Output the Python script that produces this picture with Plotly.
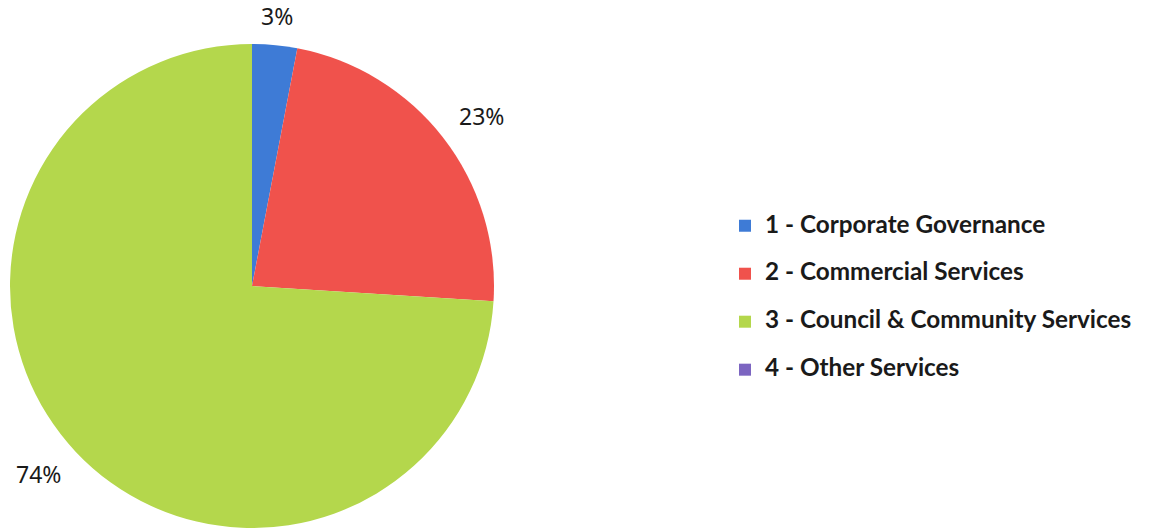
import math
import plotly.graph_objects as go

# Data
categories = [
    "1 - Corporate Governance",
    "2 - Commercial Services",
    "3 - Council & Community Services",
    "4 - Other Services",
]
shares = [3, 23, 74, 0]
colors = ["#3E7BD6", "#F0524C", "#B4D74C", "#7C65C1"]

W, H = 1149, 532

# Pie placement in pixels
CX, CY, R = 252, 286, 242
LABEL_GAP = 20
LABEL_SIZE = 23

fig = go.Figure()

# Legend entries: bold label line plus a blank spacer line for row spacing
legend_text_px = 24.3
legend_labels = [
    f"<span style='font-size:{legend_text_px}px'>{c}</span><br>&nbsp;" for c in categories
]

fig.add_trace(
    go.Pie(
        labels=legend_labels,
        values=shares,
        sort=False,
        direction="clockwise",
        rotation=0,
        marker=dict(colors=colors, line=dict(width=0)),
        textinfo="none",
        hoverinfo="skip",
        domain=dict(
            x=[(CX - R) / W, (CX + R) / W],
            y=[1 - (CY + R) / H, 1 - (CY - R) / H],
        ),
    )
)

# Percentage labels placed just outside each slice's mid-angle
total = sum(shares)
cum = 0
for v in shares:
    if v <= 0:
        continue
    mid = (cum + v / 2) / total * 2 * math.pi
    cum += v
    text = f"{round(v / total * 100)}%"
    sx, sy = math.sin(mid), -math.cos(mid)
    half_w = LABEL_SIZE * (0.57 * (len(text) - 1) + 0.84) / 2
    half_h = 9
    px = CX + (R + LABEL_GAP) * sx
    py = CY + (R + LABEL_GAP) * sy
    if abs(sx) >= 0.3:
        px += math.copysign(half_w, sx)
    if abs(sy) >= 0.3:
        py += math.copysign(half_h, sy)
    fig.add_annotation(
        x=px / W,
        y=1 - py / H,
        xref="paper",
        yref="paper",
        text=text,
        showarrow=False,
        xanchor="center",
        yanchor="middle",
        font=dict(family="Noto Sans", size=LABEL_SIZE, color="#1a1a1a"),
    )

fig.update_layout(
    width=W,
    height=H,
    margin=dict(l=0, r=0, t=0, b=0),
    paper_bgcolor="white",
    plot_bgcolor="white",
    showlegend=True,
    legend=dict(
        x=725 / W,
        y=1 - 208 / H,
        xanchor="left",
        yanchor="top",
        valign="top",
        font=dict(family="Lato", size=17.3, color="#1a1a1a", weight="bold"),
        bgcolor="rgba(0,0,0,0)",
        itemclick=False,
        itemdoubleclick=False,
    ),
)

fig.write_html("out.html")
